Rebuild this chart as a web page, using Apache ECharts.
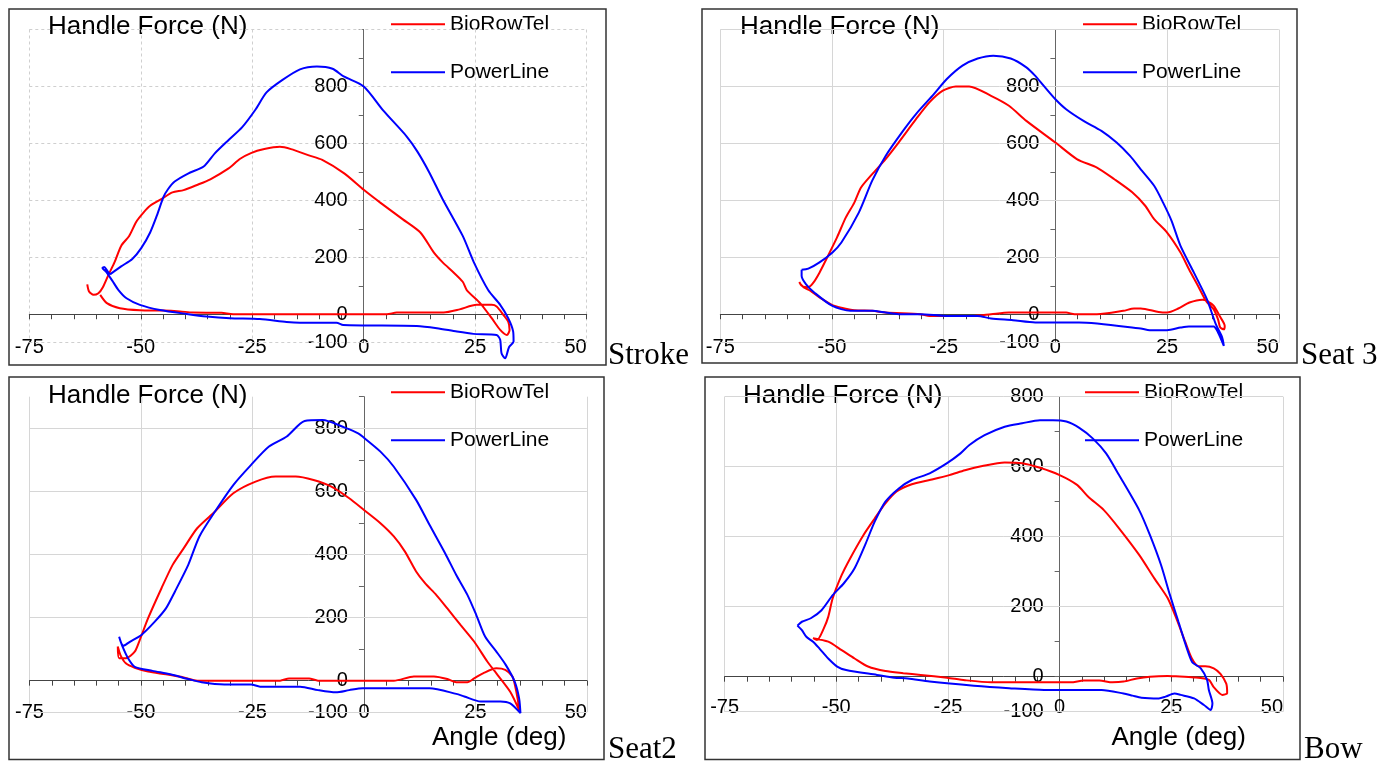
<!DOCTYPE html>
<html>
<head>
<meta charset="utf-8">
<script src="https://cdn.jsdelivr.net/npm/echarts@6/dist/echarts.min.js"></script>
<style>
  html, body { margin: 0; padding: 0; background: #fff; }
  #chart { width: 1390px; height: 762px; }
</style>
</head>
<body>
<div id="chart"></div>
<script>
// axis settings
const xMin = -75, xMax = 50, xStep = 25;
const yMin = -100;
const yMaxes = [1000, 1000, 900, 800];
const yLabelValues = [-100, 0, 200, 400, 600, 800];
const hGridLevels = [
  [-100, 200, 400, 600, 800, 1000],
  [-100, 200, 400, 600, 800, 1000],
  [-100, 200, 400, 600, 800],
  [-100, 200, 400, 600, 800]
];
const panelNames = ["Stroke", "Seat 3", "Seat2", "Bow"];
const seriesNames = ["BioRowTel", "PowerLine"];

// angle (deg), handle force (N)
const stroke_bio = [[-62,105],[-61.6,80],[-60.6,68],[-59.5,74],[-58.5,95],[-57.2,140],[-55.9,182],[-54.4,240],[-52.6,275],[-51,325],[-49.4,357],[-47.9,381],[-45.4,404],[-42.9,428],[-40.4,436],[-37.4,454],[-34.4,474],[-30.3,512],[-27.8,545],[-25.3,566],[-22.3,580],[-18.8,588],[-16.3,580],[-12.3,558],[-9.3,542],[-4.3,494],[0,437],[3.7,392],[8.7,334],[12.7,287],[15.7,217],[17.7,182],[20.2,146],[22.2,114],[23.1,85],[26.1,39],[28.7,-14],[30.6,-55],[32.1,-73],[32.7,-55],[32.4,-26],[31.3,-2],[29.8,27],[28.7,33],[25.3,33],[21.5,17],[17.9,6],[7.4,6],[5.2,0],[-29.3,0],[-31.9,5],[-38.4,6],[-41.2,10],[-45,13],[-50.2,14],[-54.7,21],[-57.6,39],[-59.1,68]];
const stroke_pl = [[-56.9,140],[-54.4,168],[-51.9,194],[-49.9,232],[-47.9,287],[-46.4,346],[-44.9,412],[-43.9,439],[-42.4,466],[-39.4,494],[-35.9,519],[-33.4,565],[-30.3,612],[-27.3,656],[-24.3,718],[-21.8,779],[-18.3,822],[-14.3,860],[-10.5,870],[-7,862],[-4.5,835],[0,800],[4.4,715],[9.6,625],[12,572],[14.7,498],[17.7,404],[22.2,275],[24.7,182],[27.9,85],[30.6,33],[32.4,-14],[33.5,-60],[33.6,-96],[32.6,-115],[31.7,-155],[30.9,-137],[30.6,-90],[29.8,-73],[24.6,-69],[20.9,-61],[16.4,-49],[11.9,-41],[-4.6,-37.6],[-6.1,-29.5],[-14.3,-29.5],[-17.3,-27],[-23.3,-17],[-30,-14],[-35.2,-8],[-39.7,1],[-45.7,15],[-50.2,33],[-53.2,56],[-55,85],[-56.4,118],[-57.8,150],[-58.6,162],[-58.2,166],[-57.5,152],[-56.9,140]];

const seat3_bio = [[-57.3,114],[-56.8,100],[-55.3,95],[-54.3,108],[-52.8,146],[-50.9,205],[-48.9,269],[-46.9,340],[-45,392],[-43.5,445],[-41,492],[-38,545],[-35.1,603],[-31.2,685],[-28.2,744],[-25.2,785],[-22.3,800],[-19.3,800],[-14.4,767],[-10.4,732],[-6.5,679],[0,603],[4.8,545],[9.3,515],[13.2,474],[17.2,428],[20.1,381],[22.1,334],[25,287],[28,217],[29.9,158],[31.9,100],[33.7,47],[35.4,18],[36.4,-18],[36.9,-47],[37.7,-53],[37.9,-41],[36.9,-10],[35.4,30],[33.9,47],[32.9,51],[30,41],[27.5,20],[25,6],[23.1,8],[19.1,20],[17.6,20],[15.2,12],[9.3,0],[4.3,0],[2.4,6],[-10.4,6],[-14.4,0],[-18.3,-6],[-28.2,-6],[-30.2,0],[-38,6],[-41,12],[-45,14],[-47.9,23],[-49.9,32],[-52.8,59],[-54.8,82],[-56.3,94],[-57.3,111]];
const seat3_pl = [[-56.8,156],[-56.8,135],[-55.8,105],[-53.8,74],[-49.9,29],[-45.9,12],[-41,12],[-38,6],[-35.1,0],[-30.2,0],[-24.3,-6],[-17.4,-6],[-14.4,-15],[-9.5,-21],[-4.5,-29],[5.3,-29],[19.1,-50],[21.1,-56],[25,-56],[28,-47],[29.9,-43],[35.4,-43],[36.4,-64],[37.7,-111],[37.3,-80],[35.9,-35],[33.9,53],[31,146],[28,240],[26,328],[24.1,392],[22.1,451],[19.1,509],[16.7,556],[13.7,603],[10.3,644],[6.3,679],[2.4,720],[0,755],[-2.6,802],[-4.5,837],[-6.5,867],[-10,898],[-13.9,908],[-17.4,898],[-20.8,873],[-24.3,826],[-27.2,773],[-31.2,703],[-34.1,644],[-38,556],[-41,469],[-44,357],[-47.9,252],[-49.9,217],[-52.8,182],[-55.3,160],[-56.8,156]];

const seat2_bio = [[-55.2,108],[-54.9,71],[-53.4,71],[-51.4,92],[-50.4,124],[-48.4,198],[-45.4,293],[-42.9,367],[-40.4,420],[-37.4,483],[-33.4,536],[-29.3,594],[-24.3,631],[-19.8,647],[-15.3,647],[-11.3,636],[-7.3,615],[-3.3,578],[0,541],[3.7,499],[6.7,457],[9.2,409],[11.7,346],[13.7,309],[16.2,272],[18.7,229],[21.7,176],[24.7,124],[27.7,60],[29.7,23],[32.8,-35],[34.8,-93],[34.5,-60],[33.8,-10],[33.3,13],[31.7,34],[29.7,39],[26.7,23],[24.7,7],[23.2,-5],[20.7,-5],[18.7,5],[15.7,13],[11.2,13],[6.7,0],[-10.3,0],[-12.3,7],[-16.8,7],[-18.8,0],[-37.4,0],[-40.4,10],[-44.4,20],[-48.4,29],[-51.4,41],[-53.4,55],[-54.6,81],[-55.2,108]];
const seat2_pl = [[-54.9,139],[-54.4,118],[-53.9,111],[-52.4,124],[-49.9,145],[-46.9,187],[-44.4,229],[-42.4,282],[-39.4,367],[-36.9,457],[-33.4,536],[-29.3,620],[-25.3,684],[-21.3,742],[-17.3,774],[-13.3,823],[-9.3,826],[-4.3,802],[-1.3,784],[0,770],[3.7,726],[6.7,678],[11.7,573],[14.7,494],[18.2,404],[20.7,335],[23.2,272],[25.2,208],[27.2,139],[29.7,92],[31.8,50],[33.8,-3],[34.8,-56],[35.1,-103],[32.8,-72],[30.6,-66],[26.2,-66],[22.5,-50],[20.7,-42],[14.7,-24],[-0.3,-24],[-3.3,-30],[-6.3,-37],[-10.3,-30],[-14.3,-19],[-23.3,-19],[-25.3,-12],[-31.3,-12],[-36.4,-5],[-39.4,5],[-43.4,20],[-47.4,31],[-51.4,44],[-52.9,71],[-54.2,110],[-54.9,139]];

const bow_bio = [[-55.2,110],[-54.3,105],[-52.8,138],[-51.8,171],[-50.8,224],[-48.8,290],[-46.9,338],[-43.9,405],[-41.4,452],[-39,495],[-36.5,529],[-33.1,550],[-29.1,562],[-24.7,576],[-21.2,590],[-17.3,602],[-12.3,612],[-8.4,610],[-4.4,597],[0,576],[3.9,548],[6.4,514],[9.9,476],[13.3,424],[17.8,348],[21.2,281],[24.2,224],[26.1,167],[28.1,100],[29.6,52],[31.1,30],[32.6,30],[34.5,24],[36,8],[37.3,-20],[37.5,-47],[36.4,-52],[34.5,-30],[33.4,-9],[30,-2],[26,1],[24.2,2],[20.2,0],[17.3,-5],[14.3,-14],[11.8,-16],[8.9,-11],[5.4,-11],[2.5,-16],[-15.3,-16],[-21.2,-10],[-25.2,-3],[-31.1,5],[-35,10],[-39,16],[-42.9,29],[-45.9,52],[-48.8,76],[-51.8,100],[-55.2,110]];
const bow_pl = [[-58.7,146],[-57.7,157],[-55.7,167],[-53.3,190],[-50.8,233],[-48.3,267],[-45.9,310],[-43.4,381],[-41.4,443],[-39,500],[-36,538],[-33.1,562],[-29.1,581],[-25.2,610],[-22.2,638],[-20.2,662],[-16.8,690],[-12.3,714],[-8.4,724],[-4.4,733],[-1.5,733],[1.5,729],[4.4,711],[7.4,681],[10.4,638],[13.3,576],[17.8,476],[20.2,405],[22.7,319],[24.7,233],[26.6,157],[29.6,43],[31.6,24],[33,-9],[33.4,-38],[34.2,-76],[33.8,-95],[32.3,-81],[30.1,-62],[27.1,-52],[25.7,-48],[23.7,-57],[22.2,-62],[18.3,-60],[16.3,-54],[14.3,-48],[9.4,-38],[-3.5,-38],[-11.3,-33],[-19.2,-26],[-29.1,-14],[-34,-5],[-37,-3],[-40.9,5],[-47.8,19],[-49.8,29],[-51.8,52],[-53.8,81],[-55.2,100],[-56.7,114],[-57.7,133],[-58.7,146]];

const panelData = [
  [stroke_bio, stroke_pl],
  [seat3_bio, seat3_pl],
  [seat2_bio, seat2_pl],
  [bow_bio, bow_pl]
];

// layout of the four panels (pixels)
const grids = [
  { left: 29.3, top: 29.5, width: 557.4, height: 313.2 },
  { left: 720.3, top: 29.5, width: 558.5, height: 313.2 },
  { left: 29.5, top: 396.7, width: 557.4, height: 315.5 },
  { left: 724.6, top: 396.7, width: 558.4, height: 315 }
];
grids.forEach(g => { g.outerBoundsMode = "none"; g.containLabel = false; });
const xLabelMargin = [23, 23, 22, 21];
const frames = [[9, 9, 597, 356], [702, 9, 595, 354], [9, 377, 595, 382.5], [705, 377, 595, 382.5]];
const titlePos = [[48, 27], [740, 27], [48, 396], [743, 396]];
const legendPos = [[391, 12.3], [1083, 12.3], [391, 380.3], [1085, 380.3]];
const sidePos = [[608, 355.5], [1301, 355.5], [608, 749.5], [1304, 749.5]];
const xTitlePos = [null, null, [432, 738.3], [1111.5, 738.3]];

const colors = ["#ff0000", "#0000ff"];
const font = "'Liberation Sans', Arial, sans-serif";

const chart = echarts.init(document.getElementById("chart"));

// x axis line sits at force 0, y axis line at angle 0 (moved with offset so labels follow)
const xAxes = grids.map((g, i) => ({
  type: "value", gridIndex: i, min: xMin, max: xMax, interval: xStep,
  position: "bottom",
  offset: -g.height * (0 - yMin) / (yMaxes[i] - yMin),
  axisLine: { onZero: false, lineStyle: { color: "#444", width: 1 } },
  axisTick: { show: true, length: 5, lineStyle: { color: "#444" } },
  minorTick: { show: true, splitNumber: 5, length: 5, lineStyle: { color: "#444" } },
  axisLabel: { margin: xLabelMargin[i], fontSize: 20, color: "#000", fontFamily: font, alignMaxLabel: "right" },
  splitLine: { show: true, lineStyle: { color: i === 0 ? "#cfcfcf" : "#d6d6d6", type: i === 0 ? [3, 3] : "solid", width: 1 } }
}));

const yAxes = grids.map((g, i) => ({
  type: "value", gridIndex: i, min: yMin, max: yMaxes[i], interval: 100,
  position: "left",
  offset: -g.width * (0 - xMin) / (xMax - xMin),
  axisLine: { onZero: false, lineStyle: { color: "#666", width: 1 } },
  axisTick: { show: true, length: 5, lineStyle: { color: "#666" } },
  axisLabel: {
    margin: 16, fontSize: 20, color: "#000", fontFamily: font,
    formatter: v => (yLabelValues.includes(v) ? String(v) : "")
  },
  splitLine: { show: false }
}));

const series = [];
panelData.forEach((pair, i) => {
  series.push({
    type: "line", name: "grid" + i, xAxisIndex: i, yAxisIndex: i, data: [], z: 0, silent: true,
    markLine: {
      silent: true, symbol: "none", label: { show: false }, animation: false,
      lineStyle: { color: i === 0 ? "#cfcfcf" : "#d6d6d6", type: i === 0 ? [3, 3] : "solid", width: 1 },
      data: hGridLevels[i].map(v => ({ yAxis: v }))
    }
  });
  pair.forEach((pts, k) => {
    series.push({
      type: "line", name: seriesNames[k], xAxisIndex: i, yAxisIndex: i, data: pts,
      symbol: "none", smooth: 0.25, z: 5, clip: false,
      lineStyle: { color: colors[k], width: 2 },
      itemStyle: { color: colors[k] }
    });
  });
});

const legends = legendPos.map(p => ({
  data: seriesNames, orient: "vertical", left: p[0], top: p[1], padding: 0,
  icon: "rect", itemWidth: 54, itemHeight: 2, itemGap: 24, selectedMode: false,
  textStyle: { fontSize: 21, lineHeight: 24, color: "#000", fontFamily: font }
}));

const graphics = [];
frames.forEach(f => graphics.push({
  type: "rect", shape: { x: f[0], y: f[1], width: f[2], height: f[3] },
  style: { fill: "none", stroke: "#333", lineWidth: 1.5 }, z: 0, silent: true
}));
titlePos.forEach(p => graphics.push({
  type: "text", x: p[0], y: p[1],
  style: { text: "Handle Force (N)", font: "26px " + font, fill: "#000", textVerticalAlign: "middle" }
}));
xTitlePos.forEach(p => { if (p) graphics.push({
  type: "text", x: p[0], y: p[1],
  style: { text: "Angle (deg)", font: "26px " + font, fill: "#000", textVerticalAlign: "middle" }
}); });
sidePos.forEach((p, i) => graphics.push({
  type: "text", x: p[0], y: p[1],
  style: { text: panelNames[i], font: "31px 'Liberation Serif', 'Times New Roman', serif", fill: "#000", textVerticalAlign: "middle" }
}));

chart.setOption({
  animation: false,
  backgroundColor: "#fff",
  grid: grids,
  xAxis: xAxes,
  yAxis: yAxes,
  legend: legends,
  series: series,
  graphic: graphics
});
</script>
</body>
</html>
